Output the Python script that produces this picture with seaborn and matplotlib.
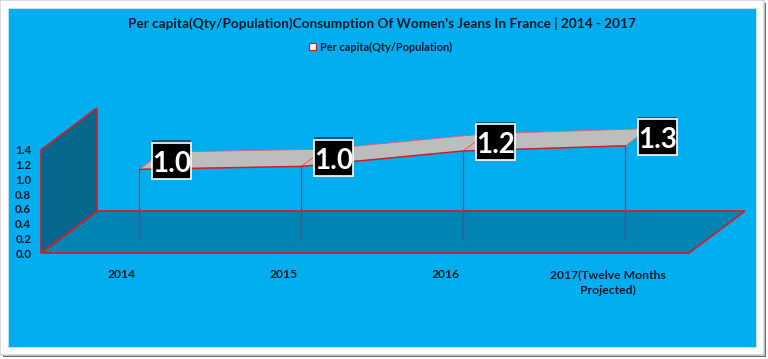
import numpy as np
import pandas as pd
import matplotlib
matplotlib.use('Agg')
import matplotlib.pyplot as plt
import matplotlib.patheffects as pe
from matplotlib.patches import Polygon, Rectangle, Patch
from matplotlib.path import Path
import seaborn as sns

categorias = ['2014', '2015', '2016', '2017(Twelve Months\nProjected)']
per_capita = [0.96, 1.0, 1.21, 1.28]
y_ticks = [0.0, 0.2, 0.4, 0.6, 0.8, 1.0, 1.2, 1.4]
titulo = "Per capita(Qty/Population)Consumption Of Women's Jeans In France | 2014 - 2017"
serie = 'Per capita(Qty/Population)'

AZUL = '#00AEEF'
CHAO = '#0084B4'
PAREDE = '#06678D'
VERMELHO = '#C9222F'
ROSA = '#E8606A'
GOTA = '#B82A50'
TEXTO = '#06192B'

sns.set_theme(style='white')
plt.rcParams['font.family'] = ['Lato', 'DejaVu Sans']

W, H = 768, 359
fig = plt.figure(figsize=(W / 100, H / 100), dpi=100, facecolor='white')

# moldura da imagem
def moldura(x0, y0, x1, y1, **kw):
    fig.add_artist(Rectangle((x0 / W, 1 - y1 / H), (x1 - x0) / W, (y1 - y0) / H,
                             transform=fig.transFigure, zorder=-1, **kw))

# caixa do rótulo com tamanho fixo em pixels
def caixa(x0, y0, w, h, mutation_size):
    cx, cy = x0 + w / 2, y0 + h / 2 + 3
    a, b = 19.5, 18
    return Path([(cx - a, cy - b), (cx + a, cy - b), (cx + a, cy + b), (cx - a, cy + b), (cx - a, cy - b)], closed=True)

moldura(3, 3, 766, 357, facecolor='#6E6E6E', edgecolor='none')
moldura(0, 0, 764, 355, facecolor='white', edgecolor='#D4D4D4', linewidth=1.2)
moldura(8, 8, 756, 347, facecolor=AZUL, edgecolor='#C8E4EE', linewidth=0.6)

ax = fig.add_axes([41 / W, 1 - 253 / H, 648 / W, 103 / H])
ax.patch.set_alpha(0)
sns.despine(ax=ax, left=True, bottom=True)

x_min, x_max = -0.5, 3.5
ax.set_xlim(x_min, x_max)
ax.set_ylim(0, 1.4)

# profundidade do falso 3D, em unidades dos eixos
DX = 56 / 162
DY = 42 / (103 / 1.4)
D_FRENTE = 0.31
D_FUNDO = 0.72

pos = np.arange(len(categorias))
valores = np.array(per_capita)

chao = [(x_min, 0), (x_max, 0), (x_max + DX, DY), (x_min + DX, DY)]
ax.add_patch(Polygon(chao, closed=True, facecolor=CHAO, edgecolor=VERMELHO,
                     linewidth=1.3, clip_on=False, zorder=1))
parede = [(x_min, 0), (x_min, 1.4), (x_min + DX, 1.4 + DY), (x_min + DX, DY)]
ax.add_patch(Polygon(parede, closed=True, facecolor=PAREDE, edgecolor=VERMELHO,
                     linewidth=1.3, clip_on=False, zorder=2))

x_f = pos + D_FRENTE * DX
y_f = valores + D_FRENTE * DY
x_b = pos + D_FUNDO * DX
y_b = valores + D_FUNDO * DY

# linhas de queda
for i in range(len(pos)):
    ax.plot([x_f[i], x_f[i]], [D_FRENTE * DY, y_f[i]], color=GOTA, linewidth=0.9,
            clip_on=False, zorder=3)

# fita cinza
for i in range(len(pos) - 1):
    fita = [(x_f[i], y_f[i]), (x_f[i + 1], y_f[i + 1]), (x_b[i + 1], y_b[i + 1]), (x_b[i], y_b[i])]
    ax.add_patch(Polygon(fita, closed=True, facecolor='#BDBDBD', edgecolor=ROSA,
                         linewidth=0.6, clip_on=False, zorder=4))

df = pd.DataFrame({'x': x_f, 'y': y_f})
sns.lineplot(data=df, x='x', y='y', ax=ax, color=VERMELHO, linewidth=1.1,
             clip_on=False, zorder=5)
ax.set_xlabel('')
ax.set_ylabel('')

ax.set_xticks(pos)
ax.set_xticklabels(categorias, fontsize=8.7, fontweight='bold', color=TEXTO, linespacing=1.5)
ax.set_yticks(y_ticks)
ax.set_yticklabels([f'{v:.1f}' for v in y_ticks], fontsize=8.3, fontweight='bold', color=TEXTO)
ax.tick_params(axis='x', length=0, pad=11.5)
ax.tick_params(axis='y', length=0, pad=7)
ax.grid(False)

# rótulos pretos
for i in range(len(pos)):
    rot = ax.annotate(f'{valores[i]:.1f}', (x_f[i], y_f[i]), xytext=(32.5 * 0.72, 5.5 * 0.72),
                      textcoords='offset points', ha='center', va='center',
                      fontsize=20, fontweight='bold', color='white', zorder=8,
                      annotation_clip=False,
                      bbox=dict(boxstyle='square', facecolor='black',
                                edgecolor='white', linewidth=1.2))
    rot.get_bbox_patch().set_boxstyle(caixa)
    rot.get_bbox_patch().set_path_effects([
        pe.SimplePatchShadow(offset=(0, 2), shadow_rgbFace='#05506E', alpha=0.9),
        pe.Normal()])

fig.text(382 / W, 1 - 23 / H, titulo, ha='center', va='center', fontsize=9.85,
         fontweight='bold', color=TEXTO)

marca = Patch(facecolor='white', edgecolor=VERMELHO, linewidth=0.9, label=serie)
fig.legend(handles=[marca], loc='center', bbox_to_anchor=(380.5 / W, 1 - 47 / H), frameon=False,
           prop=dict(size=7.9, weight='bold'), labelcolor=TEXTO, handlelength=0.65,
           handleheight=0.65, handletextpad=0.4)

fig.savefig('out.png', dpi=100)
